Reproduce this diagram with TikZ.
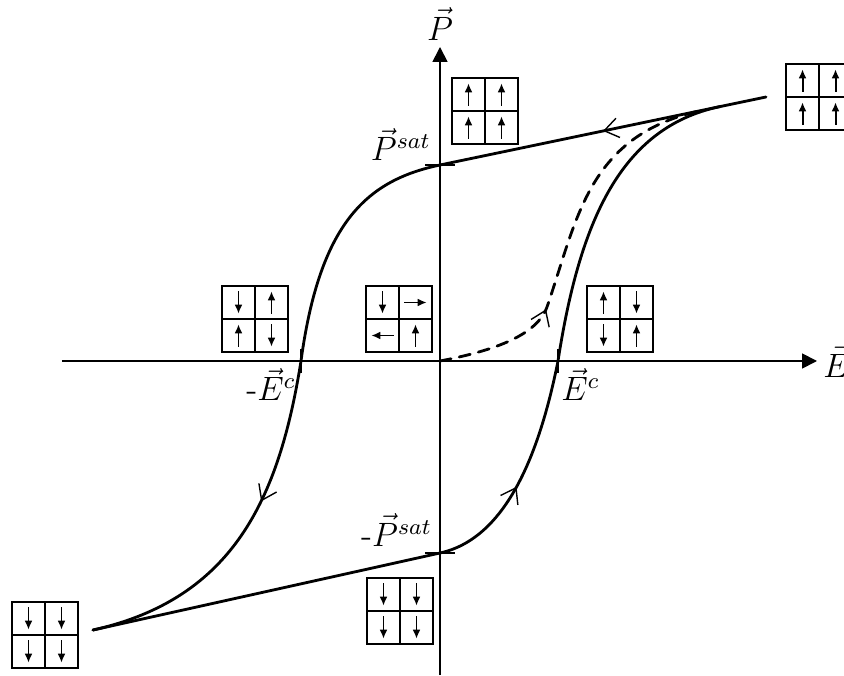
\documentclass[tikz,border=0pt]{standalone}
\usepackage{amsmath}
\usetikzlibrary{arrows.meta,calc,decorations.markings}

\tikzset{
  axis/.style={line width=0.6pt,-{Triangle[length=5.3pt,width=5.3pt]}},
  loopline/.style={line width=1pt,line cap=round},
  midarrow/.style={postaction={decorate},decoration={markings,
      mark=at position #1 with {\arrow{Straight Barb[length=5pt,width=7pt,line width=0.5pt]}}}},
  cellbox/.style={draw,line width=0.5pt,minimum size=0.825cm,inner sep=0pt},
  spin/.style={line width=0.7pt,-{Latex[length=3.2pt,width=2.8pt]}},
  tickline/.style={line width=0.6pt},
}

% 2x2 domain box: name, centre, angles of the four spins (TL, TR, BL, BR)
\newcommand{\domainbox}[6]{%
  \node[cellbox] (#1) at (#2) {};
  \draw[line width=0.5pt] (#1.north) -- (#1.south) (#1.west) -- (#1.east);
  \draw[spin] ($(#1.center)+(-0.4125,0.4125)$) ++(#3+180:0.28) -- ++(#3:0.56);
  \draw[spin] ($(#1.center)+(0.4125,0.4125)$) ++(#4+180:0.28) -- ++(#4:0.56);
  \draw[spin] ($(#1.center)+(-0.4125,-0.4125)$) ++(#5+180:0.28) -- ++(#5:0.56);
  \draw[spin] ($(#1.center)+(0.4125,-0.4125)$) ++(#6+180:0.28) -- ++(#6:0.56);
}

\begin{document}
\begin{tikzpicture}[x=0.5cm,y=0.5cm,every node/.style={font=\large}]
\useasboundingbox (-11,-7.85) rectangle (10.1,9.025);

% axes
\coordinate (Eleft) at (-9.45,0);
\coordinate (Eright) at (9.425,0);
\coordinate (Pdown) at (0,-7.85);
\coordinate (Pup) at (0,7.85);
\draw[axis] (Eleft) -- (Eright) node[right,inner sep=2pt] (Elab) {$\vec{E}$};
\draw[axis] (Pdown) -- (Pup) node[above,inner sep=2pt] (Plab) {$\vec{P}$};

% points of the loop
\coordinate (top) at (8.15,6.6);
\coordinate (bot) at (-8.675,-6.725);
\coordinate (psat) at (0,4.9);
\coordinate (mpsat) at (0,-4.8);
\coordinate (ec) at (2.95,0);
\coordinate (mec) at (-3.475,0);
\coordinate (origin) at (0,0);
\coordinate (joinup) at (7,6.36);
\coordinate (kink) at (2.675,1.35);
\coordinate (merge) at (6.6,6.277);

% ticks
\draw[tickline] ($(psat)+(-0.375,0)$) -- ($(psat)+(0.375,0)$);
\draw[tickline] ($(mpsat)+(-0.375,0)$) -- ($(mpsat)+(0.375,0)$);
\draw[tickline] ($(ec)+(0,-0.3)$) -- ($(ec)+(0,0.3)$);
\draw[tickline] ($(mec)+(0,-0.3)$) -- ($(mec)+(0,0.3)$);

% labels
\node[anchor=south east,inner sep=1pt] (psatlab) at ($(psat)+(-0.15,0.02)$) {$\vec{P}^{sat}$};
\node[anchor=south east,inner sep=1pt] (mpsatlab) at ($(mpsat)+(-0.12,0.08)$) {-$\vec{P}^{sat}$};
\node[anchor=north west,inner sep=1pt] (eclab) at ($(ec)+(0,-0.1)$) {$\vec{E}^{c}$};
\node[anchor=north east,inner sep=1pt] (meclab) at ($(mec)+(-0.05,-0.1)$) {-$\vec{E}^{c}$};

% hysteresis loop
\draw[loopline,midarrow=0.5] (top) -- (psat);
\draw[loopline] (psat) .. controls (-1.8,4.52) and (-3.0,3.5) .. (mec);
\draw[loopline,midarrow=0.4] (mec) .. controls (-4.025,-3.455) and (-5.175,-5.945) .. (bot);
\draw[loopline] (bot) -- (mpsat);
\draw[loopline,midarrow=0.44] (mpsat) .. controls (1.6,-4.45) and (2.46,-2.45) .. (ec);
\draw[loopline] (ec) .. controls (3.486,3.458) and (4.5,5.839) .. (joinup);

% first polarisation
\draw[loopline,dash pattern=on 4pt off 3pt,midarrow=0.31] (origin) .. controls (1.2,0.23) and (2.409,0.596) .. (kink)
  .. controls (3.45,3.6) and (3.7,5.67) .. (merge);

% domain configurations
\domainbox{upA}{1.125,6.25}{90}{90}{90}{90}
\domainbox{upB}{9.475,6.6}{90}{90}{90}{90}
\domainbox{mixL}{-4.625,1.05}{270}{90}{90}{270}
\domainbox{vortex}{-1.025,1.05}{270}{0}{180}{90}
\domainbox{mixR}{4.5,1.05}{90}{270}{270}{90}
\domainbox{downA}{-9.875,-6.85}{270}{270}{270}{270}
\domainbox{downB}{-1.0,-6.25}{270}{270}{270}{270}
\end{tikzpicture}
\end{document}
